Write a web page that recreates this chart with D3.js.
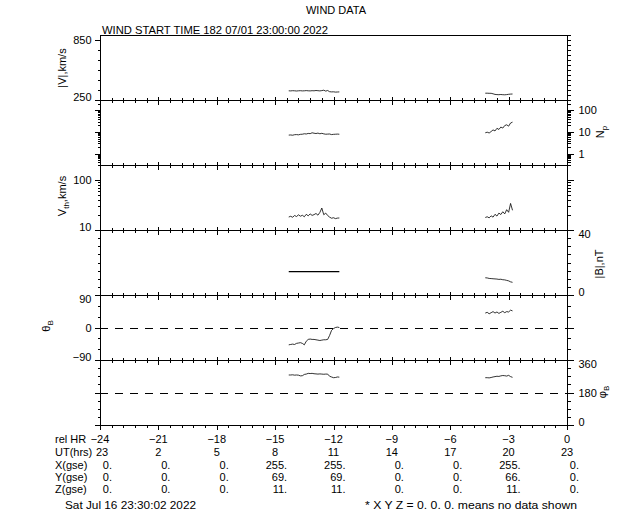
<!DOCTYPE html>
<html><head><meta charset="utf-8">
<script src="https://cdn.jsdelivr.net/npm/d3@7"></script>
<style>
html,body{margin:0;padding:0;background:#fff;}
svg{display:block;}
text{font-family:"Liberation Sans",Arial,sans-serif;fill:#000;}
</style></head>
<body>
<svg id="chart" width="640" height="512"></svg>
<script>
// ---------------- data ----------------
const t1 = [-14.3,-14.2,-14.1,-14.0,-13.9,-13.8,-13.7,-13.6,-13.5,-13.4,-13.3,-13.2,-13.1,-13.0,-12.9,-12.8,-12.7,-12.6,-12.5,-12.4,-12.3,-12.2,-12.1,-12.0,-11.9,-11.8,-11.7];
const t2 = [-4.2,-4.1,-4.0,-3.9,-3.8,-3.7,-3.6,-3.5,-3.4,-3.3,-3.2,-3.1,-3.0,-2.9,-2.8];

const speed1 = [342,341,343,342,340,342,343,341,342,344,342,341,343,342,345,343,341,344,348,339,345,333,331,332,329,330,331];
const speed2 = [318,318,317,317,312,306,304,303,305,303,302,304,307,309,310];

const np1 = [7.2,7.3,7.1,7.5,7.6,7.4,7.8,7.9,8.3,8.1,8.6,8.4,9.2,8.8,8.5,8.9,8.3,8.7,8.2,7.9,8.0,8.1,7.6,7.8,7.9,8.0,7.9];
const np2 = [9.2,9.8,9.0,10.5,12.5,11.2,14.8,13.1,16.9,15.2,19.8,21.5,18.6,26.0,28.5];

const vth1 = [18.2,18.8,18.0,19.5,18.6,20.1,18.9,19.7,18.4,20.6,19.2,21.0,19.6,20.3,21.4,19.8,22.5,27.5,20.2,21.8,19.5,18.1,17.2,17.6,16.9,17.3,17.4];
const vth2 = [17.8,18.4,17.5,19.2,18.1,20.6,19.0,21.8,20.4,23.2,21.0,25.5,22.6,34.0,24.8];

const bmag1 = [14.4,14.4,14.4,14.4,14.4,14.4,14.4,14.4,14.4,14.4,14.4,14.4,14.4,14.4,14.4,14.4,14.4,14.4,14.4,14.4,14.4,14.4,14.4,14.4,14.4,14.4,14.4];
const bmag2 = [10.6,10.5,10.2,10.1,10.0,9.9,9.8,9.6,9.7,9.4,9.3,9.0,8.7,8.1,7.8];

const theta1 = [-48,-47,-46,-47,-44,-43,-42,-44,-48,-38,-33,-32,-33,-33,-34,-35,-36,-35,-34,-34,-33,-22,-8,-3,0,1,0];
const theta2 = [40,42,38,41,44,40,43,39,42,45,41,44,43,48,46];

const phi1 = [277,277,278,276,277,276,272,273,280,282,286,285,286,284,283,282,283,282,281,282,282,270,266,262,263,266,265];
const phi2 = [262,262,261,263,266,268,270,269,272,274,273,271,275,268,264];

// bottom table
const relHr = ["−24","−21","−18","−15","−12","−9","−6","−3","0"];
const relHrVals = [-24,-21,-18,-15,-12,-9,-6,-3,0];
const utHrs = ["23","2","5","8","11","14","17","20","23"];
const xGse = ["0.","0.","0.","255.","255.","0.","0.","255.","0."];
const yGse = ["0.","0.","0.","69.","69.","0.","0.","66.","0."];
const zGse = ["0.","0.","0.","11.","11.","0.","0.","11.","0."];

// ---------------- layout ----------------
const svg = d3.select("#chart");
const X0 = 100, X1 = 567;
const x = d3.scaleLinear().domain([-24, 0]).range([X0, X1]);
const FS = 11;

const majorX = d3.range(-24, 0.001, 3);
const minorX = d3.range(0, 41).map(i => -24 + i * 0.6).filter(v => Math.abs(v / 3 - Math.round(v / 3)) > 1e-6);

function logTicks(lo, hi) {
  const out = [];
  for (let e = -2; e <= 3; e++) for (let m = 1; m <= 9; m++) {
    const v = m * Math.pow(10, e);
    if (v >= lo * 0.999 && v <= hi * 1.001) out.push(+v.toPrecision(3));
  }
  return out;
}

const panels = [
  { top: 35, bot: 100, scale: d3.scaleLinear().domain([250, 900]),
    leftMinor: [350,450,550,650,750], leftMajor: [250,850], leftLabels: true,
    rightMinor: [300,350,400,450,500,550,600,650,700,750,800,850,900], rightMajor: [], rightLabels: false,
    series: [[t1, speed1], [t2, speed2]] },
  { top: 100, bot: 165, scale: d3.scaleLog().domain([0.3, 300]),
    leftMinor: logTicks(0.3, 300), leftMajor: [1, 10, 100], leftLabels: false,
    rightMinor: logTicks(0.3, 300), rightMajor: [1, 10, 100], rightLabels: true,
    series: [[t1, np1], [t2, np2]] },
  { top: 165, bot: 230, scale: d3.scaleLog().domain([10, 200]),
    leftMinor: logTicks(10, 200), leftMajor: [10, 100], leftLabels: true,
    rightMinor: logTicks(10, 200), rightMajor: [10, 100], rightLabels: false,
    series: [[t1, vth1], [t2, vth2]] },
  { top: 230, bot: 295, scale: d3.scaleLinear().domain([0, 40]),
    leftMinor: [5,10,15,20,25,30,35], leftMajor: [0, 40], leftLabels: false,
    rightMinor: [5,10,15,20,25,30,35], rightMajor: [0, 40], rightLabels: true,
    series: [[t1, bmag1], [t2, bmag2]], thick: [true, false] },
  { top: 295, bot: 360, scale: d3.scaleLinear().domain([-90, 90]),
    leftMinor: [-60,-30,30,60], leftMajor: [-90, 0, 90], leftLabels: true,
    rightMinor: [-60,-30,30,60], rightMajor: [-90, 0, 90], rightLabels: false,
    series: [[t1, theta1], [t2, theta2]], dashed: 0 },
  { top: 360, bot: 425, scale: d3.scaleLinear().domain([0, 360]),
    leftMinor: [45,90,135,225,270,315], leftMajor: [0, 180, 360], leftLabels: false,
    rightMinor: [45,90,135,225,270,315], rightMajor: [0, 180, 360], rightLabels: true,
    series: [[t1, phi1], [t2, phi2]], dashed: 180 }
];

const fmt = v => (v < 0 ? "−" + Math.abs(v) : String(v));

panels.forEach((p, pi) => {
  const y = p.scale.range([p.bot, p.top]);
  const g = svg.append("g");

  // frame
  g.append("rect").attr("x", X0 + 0.5).attr("y", p.top + 0.5)
    .attr("width", X1 - X0).attr("height", p.bot - p.top)
    .attr("fill", "none").attr("stroke", "#000").attr("stroke-width", 1)
    .attr("shape-rendering", "crispEdges");

  // y axes
  const addAxis = (axisFn, xpos, vals, size, labels) => {
    const a = axisFn(y).tickValues(vals).tickSize(size).tickPadding(3)
      .tickFormat(labels ? fmt : () => "");
    const ag = g.append("g").attr("transform", `translate(${xpos},0)`).call(a);
    ag.select(".domain").remove();
    ag.selectAll("line").attr("shape-rendering", "crispEdges");
    ag.selectAll("text").attr("font-family", "Liberation Sans, Arial, sans-serif")
      .attr("font-size", FS).attr("fill", "#000")
      .attr("dy", d => {
        const py = y(d);
        if (Math.abs(py - p.top) < 1) return "0.7em";       // nudge inward at top edge
        if (Math.abs(py - p.bot) < 1) return "0.05em";      // nudge inward at bottom edge
        return "0.32em";
      });
    return ag;
  };
  addAxis(d3.axisLeft, X0 + 0.5, p.leftMinor, 3, false);
  addAxis(d3.axisLeft, X0 + 0.5, p.leftMajor, 6, p.leftLabels);
  addAxis(d3.axisRight, X1 + 0.5, p.rightMinor, 3, false);
  const ra = addAxis(d3.axisRight, X1 + 0.5, p.rightMajor, 6, p.rightLabels);
  ra.selectAll("text").attr("dx", 2);

  // x ticks: upward from bottom boundary, downward from top boundary (internal)
  const xAxis = (fn, ypos, vals, size) => {
    const ag = g.append("g").attr("transform", `translate(0,${ypos})`)
      .call(fn(x).tickValues(vals).tickSize(size).tickFormat(() => ""));
    ag.select(".domain").remove();
    ag.selectAll("line").attr("shape-rendering", "crispEdges");
  };
  xAxis(d3.axisBottom, p.bot + 0.5, majorX, 4);
  xAxis(d3.axisBottom, p.bot + 0.5, minorX, 2.5);
  if (pi < panels.length - 1) {
    xAxis(d3.axisTop, p.bot + 0.5, majorX, 4);
    xAxis(d3.axisTop, p.bot + 0.5, minorX, 2.5);
  }

  // dashed reference line
  if (p.dashed !== undefined) {
    g.append("line").attr("x1", X0).attr("x2", X1)
      .attr("y1", Math.round(y(p.dashed)) + 0.5).attr("y2", Math.round(y(p.dashed)) + 0.5)
      .attr("stroke", "#000").attr("stroke-width", 1).attr("stroke-dasharray", "8,7");
  }

  // data
  const line = d3.line().x(d => x(d[0])).y(d => y(d[1]));
  p.series.forEach((s, si) => {
    const pts = s[0].map((t, i) => [t, s[1][i]]);
    g.append("path").attr("d", line(pts)).attr("fill", "none")
      .attr("stroke", "#000").attr("stroke-width", (p.thick && p.thick[si]) ? 1.3 : 0.8);
  });
});

// ---------------- texts ----------------
svg.append("text").attr("x", 336).attr("y", 14).attr("text-anchor", "middle")
  .attr("font-size", FS).text("WIND DATA");
svg.append("text").attr("x", 102).attr("y", 34).attr("font-size", FS)
  .attr("textLength", 226).attr("lengthAdjust", "spacingAndGlyphs")
  .text("WIND START TIME 182 07/01 23:00:00 2022");

function rotLabel(cx, cy, build) {
  const t = svg.append("text").attr("transform", `translate(${cx},${cy}) rotate(-90)`)
    .attr("text-anchor", "middle").attr("font-size", FS);
  build(t);
  return t;
}
rotLabel(66, 68, t => t.text("|V|,km/s"));
rotLabel(66, 196, t => {
  t.append("tspan").text("V");
  t.append("tspan").attr("font-size", 8).attr("dy", 3).text("th");
  t.append("tspan").attr("dy", -3).text(",km/s");
});
rotLabel(604, 132, t => {
  t.append("tspan").text("N");
  t.append("tspan").attr("font-size", 8).attr("dy", 3).text("p");
});
rotLabel(603, 264, t => t.text("|B|,nT"));
rotLabel(50, 326, t => {
  t.append("tspan").text("θ");
  t.append("tspan").attr("font-size", 8).attr("dy", 3).text("B");
});
rotLabel(606, 392, t => {
  t.append("tspan").text("φ");
  t.append("tspan").attr("font-size", 8).attr("dy", 3).text("B");
});

// bottom table
const rows = [
  { label: "rel HR", y: 443, vals: relHr, anchor: "middle", dx: 0 },
  { label: "UT(hrs)", y: 456, vals: utHrs, anchor: "middle", dx: 0 },
  { label: "X(gse)", y: 469, vals: xGse, anchor: "end", dx: 12 },
  { label: "Y(gse)", y: 481, vals: yGse, anchor: "end", dx: 12 },
  { label: "Z(gse)", y: 493, vals: zGse, anchor: "end", dx: 12 }
];
rows.forEach(r => {
  svg.append("text").attr("x", 55).attr("y", r.y).attr("font-size", FS).text(r.label);
  svg.selectAll(null).data(r.vals).enter().append("text")
    .attr("x", (d, i) => x(relHrVals[i]) + r.dx + (r === rows[1] && i === 0 ? 2 : 0))
    .attr("y", r.y).attr("text-anchor", r.anchor).attr("font-size", FS).text(d => d);
});

svg.append("text").attr("x", 65).attr("y", 509).attr("font-size", FS)
  .attr("textLength", 131).attr("lengthAdjust", "spacingAndGlyphs")
  .text("Sat Jul 16 23:30:02 2022");
svg.append("text").attr("x", 365).attr("y", 509).attr("font-size", FS)
  .attr("textLength", 212).attr("lengthAdjust", "spacingAndGlyphs")
  .text("* X Y Z = 0. 0. 0. means no data shown");
</script>
</body></html>
